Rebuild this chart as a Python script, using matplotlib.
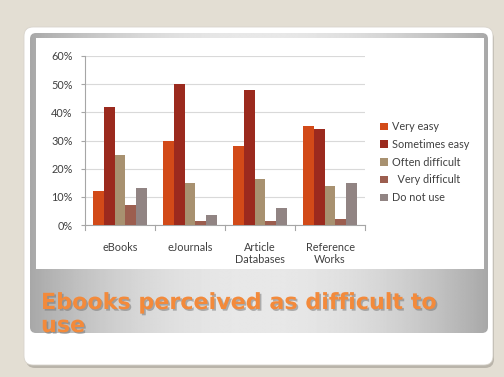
import numpy as np
import matplotlib
matplotlib.use("Agg")
import matplotlib.pyplot as plt
from matplotlib.patches import FancyBboxPatch, Rectangle
import matplotlib.patheffects as pe

categories = ["eBooks", "eJournals", "Article\nDatabases", "Reference\nWorks"]
series_names = ["Very easy", "Sometimes easy", "Often difficult", "  Very difficult", "Do not use"]
very_easy = [12, 30, 28, 35]
sometimes_easy = [42, 50, 48, 34]
often_difficult = [25, 15, 16.5, 14]
very_difficult = [7, 1.5, 1.5, 2]
do_not_use = [13, 3.5, 6, 15]
series_values = [very_easy, sometimes_easy, often_difficult, very_difficult, do_not_use]
colors = ["#D24A18", "#9B2A1E", "#A89170", "#9C5E4F", "#918483"]
yticks = [0, 10, 20, 30, 40, 50, 60]
ytick_labels = ["0%", "10%", "20%", "30%", "40%", "50%", "60%"]
title_line1 = "Ebooks perceived as difficult to"
title_line2 = "use"

W, H = 504, 377
fig = plt.figure(figsize=(W / 100, H / 100), dpi=100)
fig.patch.set_facecolor("#E3DED3")

bg = fig.add_axes([0, 0, 1, 1])
bg.set_xlim(0, W)
bg.set_ylim(H, 0)
bg.axis("off")

# card shadow and card
bg.add_patch(FancyBboxPatch((26, 30), 468, 338, boxstyle="round,pad=0,rounding_size=9",
                            fc="#B9B4AA", ec="none", zorder=1))
bg.add_patch(FancyBboxPatch((24, 27), 469, 338, boxstyle="round,pad=0,rounding_size=9",
                            fc="white", ec="#D8D4CC", lw=0.6, zorder=2))

# gray gradient frame
frame = FancyBboxPatch((30, 33), 458, 300, boxstyle="round,pad=0,rounding_size=6",
                       fc="none", ec="none", zorder=3)
bg.add_patch(frame)
xs = np.linspace(-1, 1, 400)
grad = 1 - np.abs(xs) ** 2.0
row = 0.66 + 0.25 * grad
img = np.tile(row, (50, 1))
im = bg.imshow(img, extent=(30, 488, 333, 33), cmap="gray", vmin=0, vmax=1,
               aspect="auto", zorder=3, interpolation="bilinear")
im.set_clip_path(frame)

# white chart area
bg.add_patch(Rectangle((36, 38), 448, 231, fc="white", ec="none", zorder=4))

# title
shadow = [pe.withSimplePatchShadow(offset=(1.2, -1.2), shadow_rgbFace="#707070", alpha=0.5)]
for txt, yb in [(title_line1, 309), (title_line2, 332)]:
    bg.text(41, yb, txt, fontsize=16.0, fontweight="bold", color="#F38A3B",
            family="DejaVu Sans", ha="left", va="baseline", zorder=6, path_effects=shadow)

# chart
left, right, bottom, top = 85, 365, 225, 56
ax = fig.add_axes([left / W, 1 - bottom / H, (right - left) / W, (bottom - top) / H])
ax.set_facecolor("none")
n = len(series_values)
bw = 0.155
x = np.arange(len(categories))
for i, (name, vals, c) in enumerate(zip(series_names, series_values, colors)):
    ax.bar(x + (i - (n - 1) / 2) * bw, vals, bw, color=c, label=name, zorder=3)

ax.set_xlim(-0.5, len(categories) - 0.5)
ax.set_ylim(0, 60)
ax.set_yticks(yticks)
ax.set_yticklabels(ytick_labels)
ax.set_xticks(x)
ax.set_xticklabels(categories)
ax.yaxis.grid(True, color="#D9D9D9", lw=0.8, zorder=0)
for s in ["top", "right"]:
    ax.spines[s].set_visible(False)
for s in ["left", "bottom"]:
    ax.spines[s].set_color("#A6A6A6")
    ax.spines[s].set_linewidth(0.8)
ax.tick_params(axis="y", length=3, color="#A6A6A6", labelsize=7.8, labelcolor="#404040", pad=6)
ax.tick_params(axis="x", length=0, labelsize=7.8, labelcolor="#404040", pad=12)
for xm in np.arange(-0.5, len(categories), 1.0):
    ax.plot([xm, xm], [0, -1.8], color="#A6A6A6", lw=0.8, clip_on=False, zorder=3)
for t in ax.get_xticklabels() + ax.get_yticklabels():
    t.set_family("Lato")

leg = fig.legend(loc="upper left", bbox_to_anchor=(376 / W, 1 - 117 / H), frameon=False,
                 prop={"family": "Lato", "size": 7.8}, handlelength=0.7, handleheight=0.7,
                 handletextpad=0.35, labelspacing=0.62, borderaxespad=0)
for t in leg.get_texts():
    t.set_color("#404040")

fig.savefig("out.png", dpi=100, facecolor=fig.get_facecolor())
